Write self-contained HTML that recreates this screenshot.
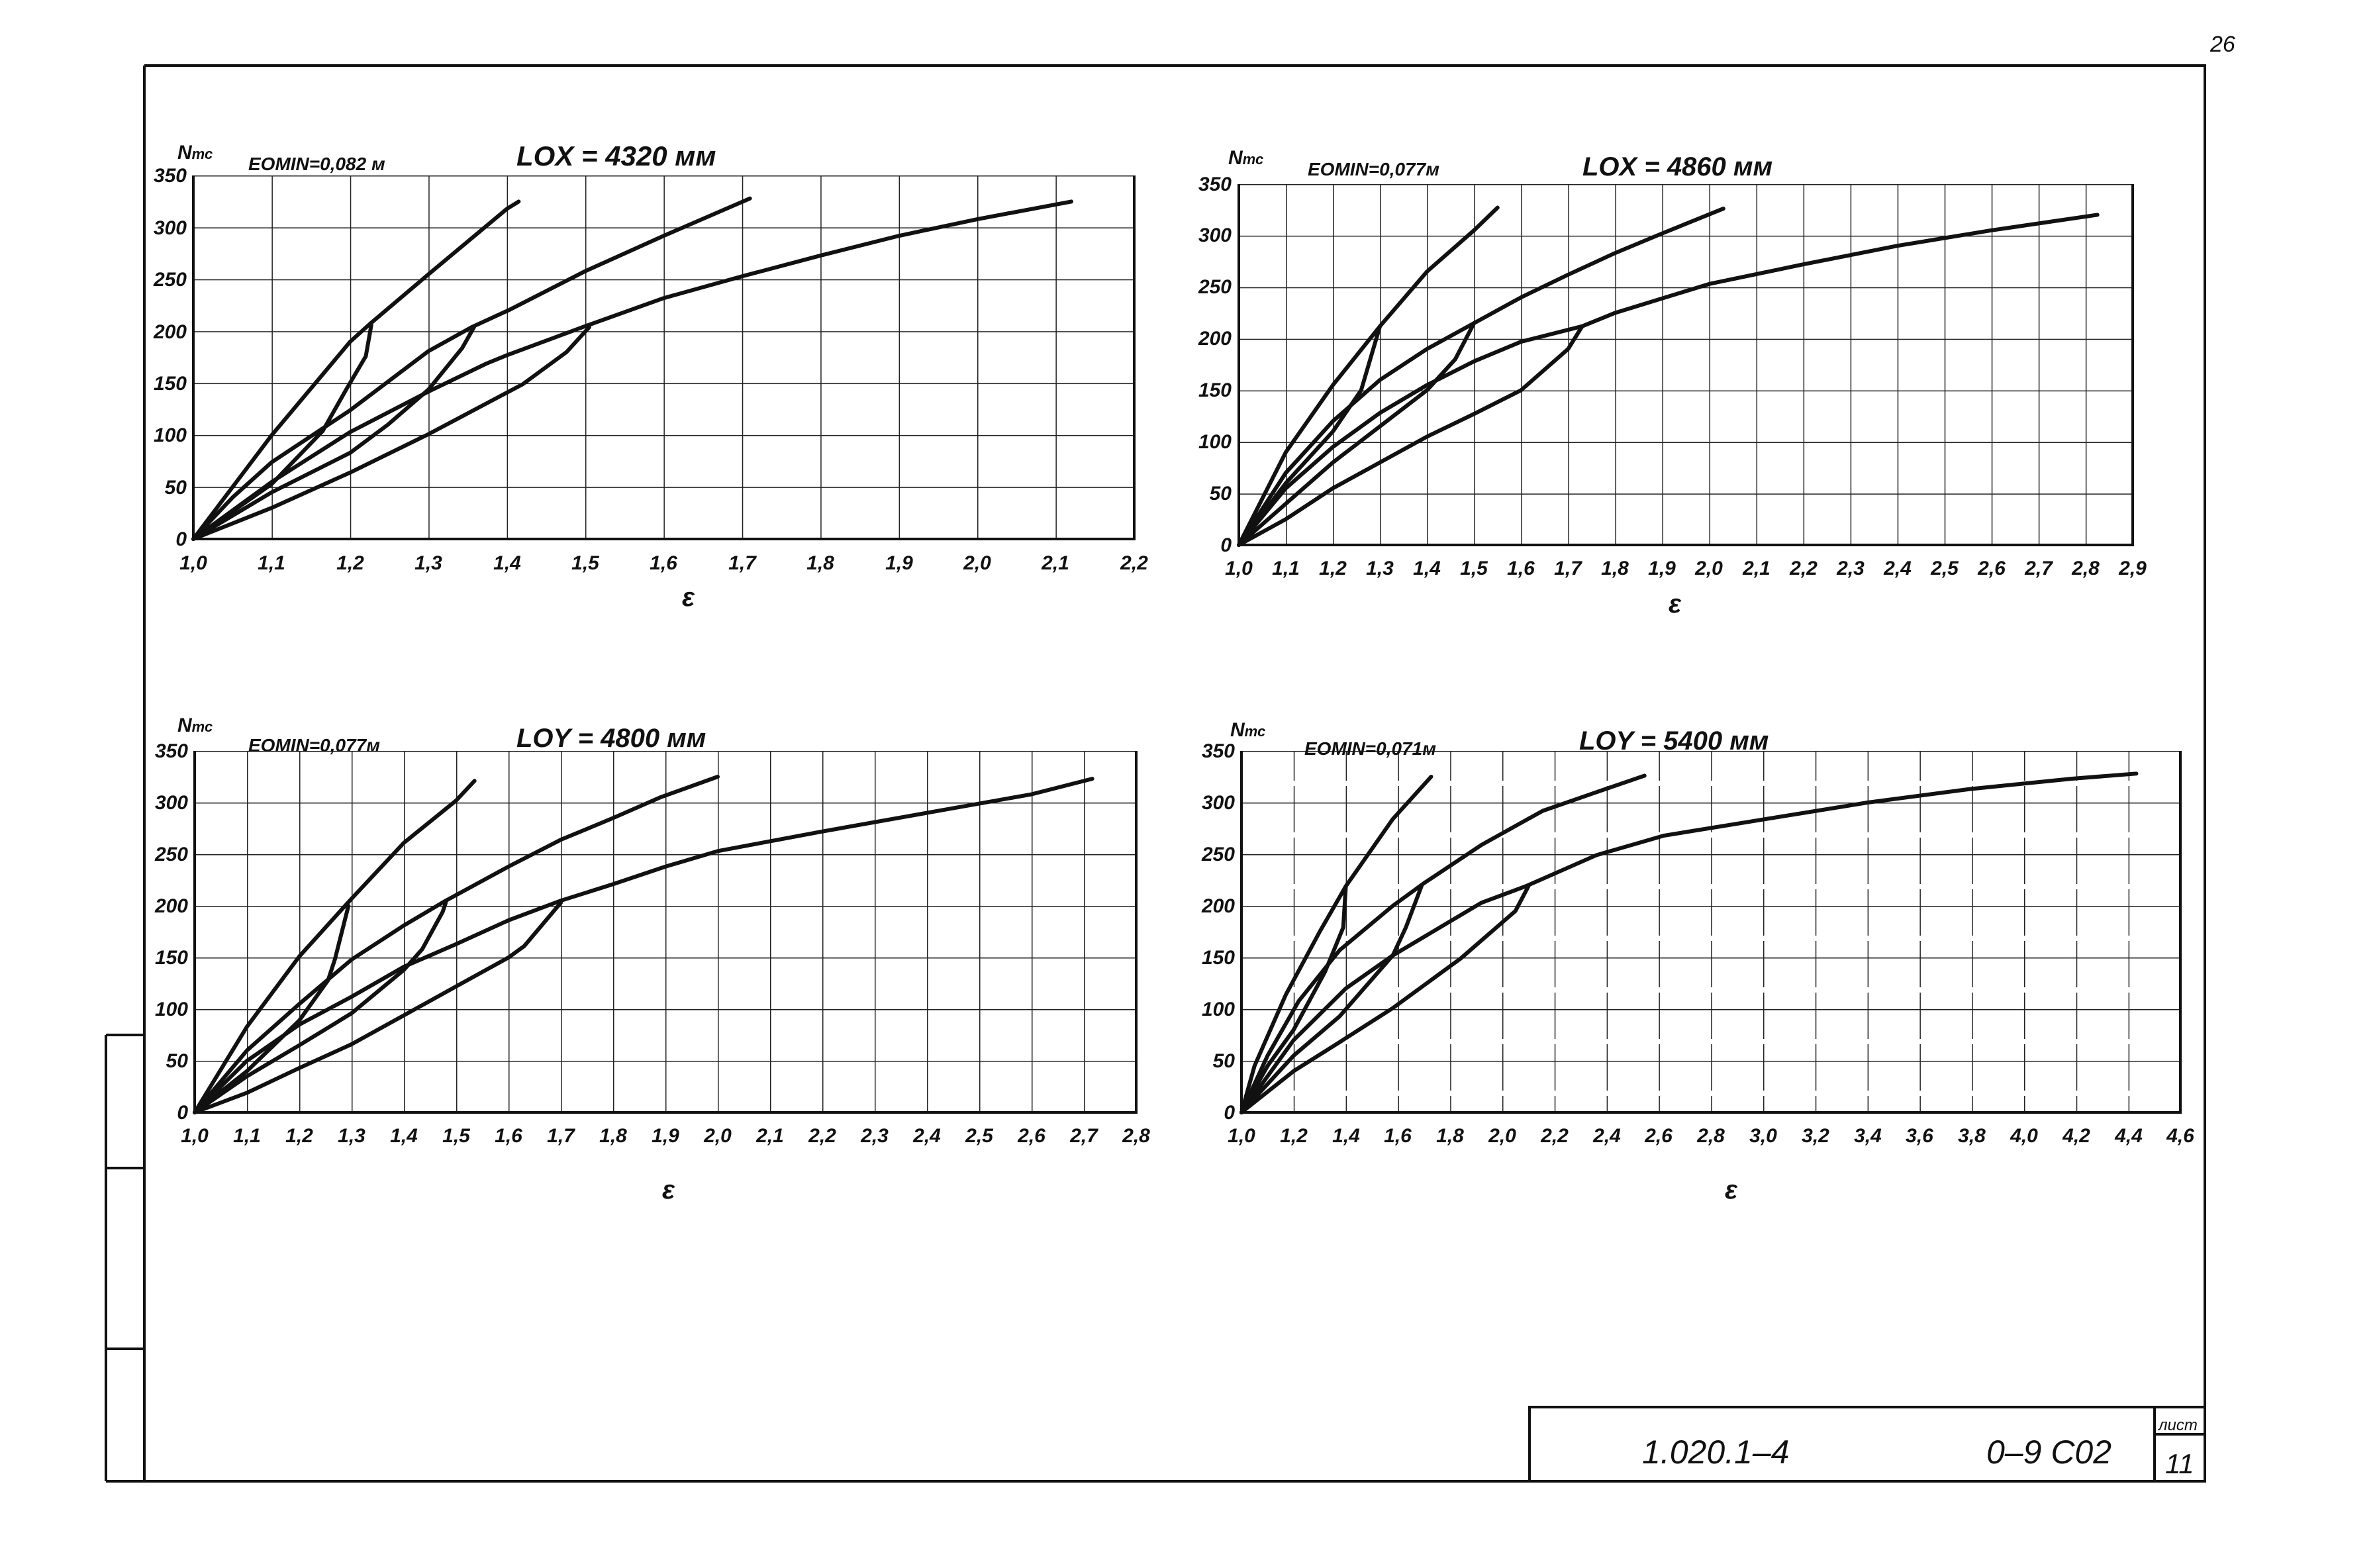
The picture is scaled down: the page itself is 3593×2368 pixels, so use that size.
<!DOCTYPE html>
<html><head><meta charset="utf-8"><style>
html,body{margin:0;padding:0;background:#fff}
svg{display:block}
text{font-family:"Liberation Sans",sans-serif;font-style:italic;font-weight:bold;fill:#111}
.t{font-size:30px}
.yl{font-size:30px;text-anchor:end}
.xl{font-size:30px;text-anchor:middle}
.cv{fill:none;stroke:#111;stroke-width:6;stroke-linejoin:round;stroke-linecap:round}
</style></head><body>
<svg xmlns="http://www.w3.org/2000/svg" width="3593" height="2368" viewBox="0 0 3593 2368">
<defs>
<pattern id="g1" patternUnits="userSpaceOnUse" x="292" y="265" width="118.4" height="78.4"><path d="M0 0H118.4M0 0V78.4" stroke="#222" stroke-width="3" fill="none"/></pattern>
<pattern id="g2" patternUnits="userSpaceOnUse" x="1871" y="278" width="71.05" height="77.9"><path d="M0 0H71.05M0 0V77.9" stroke="#222" stroke-width="3" fill="none"/></pattern>
<pattern id="g3" patternUnits="userSpaceOnUse" x="294" y="1134" width="79" height="78"><path d="M0 0H79M0 0V78" stroke="#222" stroke-width="3" fill="none"/></pattern>
<pattern id="g4" patternUnits="userSpaceOnUse" x="1875" y="1134" width="78.8" height="78"><path d="M0 0H78.8" stroke="#222" stroke-width="3" fill="none"/><path d="M0 0V78" stroke="#222" stroke-width="3" stroke-dasharray="45 8" fill="none"/></pattern>
</defs>

<!-- frame -->
<g stroke="#111" fill="none" stroke-width="4">
<path d="M218 99H3330V2237H160"/>
<path d="M218 99V2237"/>
<path d="M160 1563H218M160 1764H218M160 2037H218M160 1563V2237"/>
<path d="M2310 2237V2125H3330M3254 2125V2237M3254 2166H3330"/>
</g>
<text x="3338" y="78" style="font-size:34px;font-weight:normal">26</text>

<!-- chart 1 -->
<rect x="292" y="265" width="1421" height="549" fill="url(#g1)"/>
<path d="M292 265V814H1713V265" stroke="#111" stroke-width="4" fill="none"/>
<g transform="translate(-892,814) scale(1184,-1.568)">
<polyline class="cv" vector-effect="non-scaling-stroke" points="1,0 1.035,35 1.1,100 1.2,190 1.225,207 1.3,255 1.4,318 1.415,325"/>
<polyline class="cv" vector-effect="non-scaling-stroke" points="1,0 1.05,40 1.1,74 1.2,124 1.3,181 1.355,204 1.404,221 1.5,258 1.6,292 1.71,328"/>
<polyline class="cv" vector-effect="non-scaling-stroke" points="1,0 1.1,55 1.2,103 1.3,142 1.374,169 1.4,177 1.5,205 1.6,232 1.7,253 1.8,273 1.9,292 2.0,308 2.12,325"/>
<polyline class="cv" vector-effect="non-scaling-stroke" points="1,0 1.1,53 1.165,104 1.195,144 1.22,176 1.227,206"/>
<polyline class="cv" vector-effect="non-scaling-stroke" points="1,0 1.1,45 1.2,83 1.248,110 1.3,144 1.343,184 1.358,204"/>
<polyline class="cv" vector-effect="non-scaling-stroke" points="1,0 1.1,30 1.2,64 1.3,101 1.42,149 1.476,180 1.505,204"/>
</g>
<text class="t" x="268" y="240">N<tspan font-size="22">тс</tspan></text>
<text class="t" x="375" y="257" style="font-size:28px">EOMIN=0,082 м</text>
<text x="780" y="250" style="font-size:42px">LOX = 4320 мм</text>
<g class="yl"><text class="yl" x="282" y="824">0</text><text class="yl" x="282" y="746">50</text><text class="yl" x="282" y="667">100</text><text class="yl" x="282" y="589">150</text><text class="yl" x="282" y="511">200</text><text class="yl" x="282" y="432">250</text><text class="yl" x="282" y="354">300</text><text class="yl" x="282" y="275">350</text></g>
<text class="xl" x="292" y="860">1,0</text><text class="xl" x="410" y="860">1,1</text><text class="xl" x="529" y="860">1,2</text><text class="xl" x="647" y="860">1,3</text><text class="xl" x="766" y="860">1,4</text><text class="xl" x="884" y="860">1,5</text><text class="xl" x="1002" y="860">1,6</text><text class="xl" x="1121" y="860">1,7</text><text class="xl" x="1239" y="860">1,8</text><text class="xl" x="1358" y="860">1,9</text><text class="xl" x="1476" y="860">2,0</text><text class="xl" x="1594" y="860">2,1</text><text class="xl" x="1713" y="860">2,2</text>
<text x="1030" y="915" style="font-size:40px">ε</text>

<!-- chart 2 -->
<rect x="1871" y="278" width="1350" height="545" fill="url(#g2)"/>
<path d="M1871 278V823H3221V278" stroke="#111" stroke-width="4" fill="none"/>
<g transform="translate(1160.5,823) scale(710.5,-1.558)">
<polyline class="cv" vector-effect="non-scaling-stroke" points="1,0 1.1,90 1.2,155 1.3,212 1.4,265 1.5,305 1.55,327"/>
<polyline class="cv" vector-effect="non-scaling-stroke" points="1,0 1.1,70 1.2,120 1.3,160 1.4,190 1.5,215 1.6,240 1.7,262 1.8,283 1.9,302 2.03,326"/>
<polyline class="cv" vector-effect="non-scaling-stroke" points="1,0 1.1,55 1.2,95 1.3,128 1.4,155 1.5,178 1.6,197 1.73,212 1.8,225 2.0,253 2.2,272 2.4,290 2.6,305 2.825,320"/>
<polyline class="cv" vector-effect="non-scaling-stroke" points="1,0 1.1,60 1.2,110 1.26,150 1.3,212"/>
<polyline class="cv" vector-effect="non-scaling-stroke" points="1,0 1.1,40 1.2,80 1.3,115 1.4,150 1.46,180 1.5,215"/>
<polyline class="cv" vector-effect="non-scaling-stroke" points="1,0 1.1,25 1.2,55 1.3,80 1.4,105 1.5,127 1.6,150 1.7,190 1.73,212"/>
</g>
<text class="t" x="1855" y="248">N<tspan font-size="22">тс</tspan></text>
<text class="t" x="1975" y="265" style="font-size:28px">EOMIN=0,077м</text>
<text x="2390" y="265" style="font-size:40px">LOX = 4860 мм</text>
<text class="yl" x="1860" y="833">0</text><text class="yl" x="1860" y="755">50</text><text class="yl" x="1860" y="677">100</text><text class="yl" x="1860" y="599">150</text><text class="yl" x="1860" y="521">200</text><text class="yl" x="1860" y="443">250</text><text class="yl" x="1860" y="365">300</text><text class="yl" x="1860" y="288">350</text>
<g font-size="28"><text class="xl" x="1871" y="868">1,0</text><text class="xl" x="1942" y="868">1,1</text><text class="xl" x="2013" y="868">1,2</text><text class="xl" x="2084" y="868">1,3</text><text class="xl" x="2155" y="868">1,4</text><text class="xl" x="2226" y="868">1,5</text><text class="xl" x="2297" y="868">1,6</text><text class="xl" x="2368" y="868">1,7</text><text class="xl" x="2439" y="868">1,8</text><text class="xl" x="2510" y="868">1,9</text><text class="xl" x="2581" y="868">2,0</text><text class="xl" x="2653" y="868">2,1</text><text class="xl" x="2724" y="868">2,2</text><text class="xl" x="2795" y="868">2,3</text><text class="xl" x="2866" y="868">2,4</text><text class="xl" x="2937" y="868">2,5</text><text class="xl" x="3008" y="868">2,6</text><text class="xl" x="3079" y="868">2,7</text><text class="xl" x="3150" y="868">2,8</text><text class="xl" x="3221" y="868">2,9</text></g>
<text x="2520" y="925" style="font-size:40px">ε</text>

<!-- chart 3 -->
<rect x="294" y="1134" width="1422" height="546" fill="url(#g3)"/>
<path d="M294 1134V1680H1716V1134" stroke="#111" stroke-width="4" fill="none"/>
<g transform="translate(-496,1680) scale(790,-1.56)">
<polyline class="cv" vector-effect="non-scaling-stroke" points="1,0 1.1,83 1.2,151 1.3,207 1.4,261 1.5,302 1.535,321"/>
<polyline class="cv" vector-effect="non-scaling-stroke" points="1,0 1.1,60 1.2,105 1.3,148 1.4,181 1.48,205 1.6,238 1.7,264 1.8,285 1.89,305 2.0,325"/>
<polyline class="cv" vector-effect="non-scaling-stroke" points="1,0 1.1,50 1.2,85 1.3,112 1.4,141 1.5,163 1.6,186 1.7,205 1.8,221 1.9,238 2.0,253 2.2,272 2.4,290 2.6,308 2.716,323"/>
<polyline class="cv" vector-effect="non-scaling-stroke" points="1,0 1.1,40 1.2,89 1.255,128 1.268,148 1.294,200"/>
<polyline class="cv" vector-effect="non-scaling-stroke" points="1,0 1.1,35 1.2,65 1.3,96 1.4,138 1.435,158 1.474,194 1.48,203"/>
<polyline class="cv" vector-effect="non-scaling-stroke" points="1,0 1.1,19 1.2,43 1.3,66 1.4,94 1.5,122 1.6,150 1.63,161 1.7,203"/>
</g>
<text class="t" x="268" y="1105">N<tspan font-size="22">тс</tspan></text>
<text class="t" x="375" y="1135" style="font-size:28px">EOMIN=0,077м</text>
<text x="780" y="1128" style="font-size:40px">LOY = 4800 мм</text>
<text class="yl" x="284" y="1690">0</text><text class="yl" x="284" y="1612">50</text><text class="yl" x="284" y="1534">100</text><text class="yl" x="284" y="1456">150</text><text class="yl" x="284" y="1378">200</text><text class="yl" x="284" y="1300">250</text><text class="yl" x="284" y="1222">300</text><text class="yl" x="284" y="1144">350</text>
<g font-size="28"><text class="xl" x="294" y="1725">1,0</text><text class="xl" x="373" y="1725">1,1</text><text class="xl" x="452" y="1725">1,2</text><text class="xl" x="531" y="1725">1,3</text><text class="xl" x="610" y="1725">1,4</text><text class="xl" x="689" y="1725">1,5</text><text class="xl" x="768" y="1725">1,6</text><text class="xl" x="847" y="1725">1,7</text><text class="xl" x="926" y="1725">1,8</text><text class="xl" x="1005" y="1725">1,9</text><text class="xl" x="1084" y="1725">2,0</text><text class="xl" x="1163" y="1725">2,1</text><text class="xl" x="1242" y="1725">2,2</text><text class="xl" x="1321" y="1725">2,3</text><text class="xl" x="1400" y="1725">2,4</text><text class="xl" x="1479" y="1725">2,5</text><text class="xl" x="1558" y="1725">2,6</text><text class="xl" x="1637" y="1725">2,7</text><text class="xl" x="1716" y="1725">2,8</text></g>
<text x="1000" y="1810" style="font-size:40px">ε</text>

<!-- chart 4 -->
<rect x="1875" y="1134" width="1418" height="546" fill="url(#g4)"/>
<path d="M1875 1134V1680H3293V1134" stroke="#111" stroke-width="4" fill="none"/>
<g transform="translate(1481,1680) scale(394,-1.56)">
<polyline class="cv" vector-effect="non-scaling-stroke" points="1,0 1.05,45 1.17,114 1.3,175 1.4,219 1.58,284 1.727,325"/>
<polyline class="cv" vector-effect="non-scaling-stroke" points="1,0 1.1,55 1.22,108 1.376,157 1.58,200 1.7,222 1.92,259 2.155,292 2.36,310 2.545,326"/>
<polyline class="cv" vector-effect="non-scaling-stroke" points="1,0 1.2,70 1.4,120 1.58,152 1.92,203 2.09,219 2.36,249 2.62,268 3.01,284 3.4,300 3.79,313 4.18,323 4.43,328"/>
<polyline class="cv" vector-effect="non-scaling-stroke" points="1,0 1.1,45 1.2,80 1.32,136 1.39,179 1.4,219"/>
<polyline class="cv" vector-effect="non-scaling-stroke" points="1,0 1.2,55 1.376,93 1.58,152 1.63,179 1.69,219"/>
<polyline class="cv" vector-effect="non-scaling-stroke" points="1,0 1.2,40 1.376,68 1.58,101 1.84,149 2.05,195 2.1,219"/>
</g>
<text class="t" x="1858" y="1112">N<tspan font-size="22">тс</tspan></text>
<text class="t" x="1970" y="1140" style="font-size:28px">EOMIN=0,071м</text>
<text x="2385" y="1132" style="font-size:40px">LOY = 5400 мм</text>
<text class="yl" x="1865" y="1690">0</text><text class="yl" x="1865" y="1612">50</text><text class="yl" x="1865" y="1534">100</text><text class="yl" x="1865" y="1456">150</text><text class="yl" x="1865" y="1378">200</text><text class="yl" x="1865" y="1300">250</text><text class="yl" x="1865" y="1222">300</text><text class="yl" x="1865" y="1144">350</text>
<g font-size="28"><text class="xl" x="1875" y="1725">1,0</text><text class="xl" x="1954" y="1725">1,2</text><text class="xl" x="2033" y="1725">1,4</text><text class="xl" x="2111" y="1725">1,6</text><text class="xl" x="2190" y="1725">1,8</text><text class="xl" x="2269" y="1725">2,0</text><text class="xl" x="2348" y="1725">2,2</text><text class="xl" x="2427" y="1725">2,4</text><text class="xl" x="2505" y="1725">2,6</text><text class="xl" x="2584" y="1725">2,8</text><text class="xl" x="2663" y="1725">3,0</text><text class="xl" x="2742" y="1725">3,2</text><text class="xl" x="2821" y="1725">3,4</text><text class="xl" x="2899" y="1725">3,6</text><text class="xl" x="2978" y="1725">3,8</text><text class="xl" x="3057" y="1725">4,0</text><text class="xl" x="3136" y="1725">4,2</text><text class="xl" x="3215" y="1725">4,4</text><text class="xl" x="3293" y="1725">4,6</text></g>
<text x="2605" y="1810" style="font-size:40px">ε</text>

<!-- title block text -->
<text x="2480" y="2210" style="font-size:50px;font-weight:normal">1.020.1–4</text>
<text x="3000" y="2210" style="font-size:50px;font-weight:normal">0–9 С02</text>
<text x="3260" y="2160" style="font-size:24px;font-weight:normal">лист</text>
<text x="3270" y="2225" style="font-size:42px;font-weight:normal">11</text>
</svg>
</body></html>
